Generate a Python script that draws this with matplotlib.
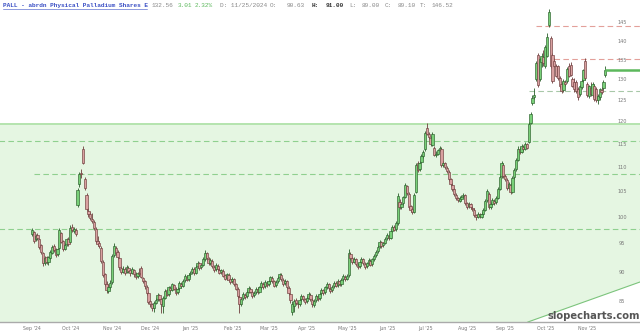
import numpy as np
import pandas as pd
import matplotlib
matplotlib.use('Agg')
import matplotlib.pyplot as plt
from matplotlib.lines import Line2D

# daily OHLC, one line per month (Sep 2024 .. Nov 2025)
opens = [
    96.8, 97.2, 95.8, 96.6, 95.8, 94.8, 93.4, 91.6, 92.6, 91.7, 92.4, 93.4, 94.6, 94.0, 93.1, 94.2, 97.0, 95.5, 94.1, 94.9, 95.9,
    95.3, 98.2, 97.3, 97.6, 102.4, 106.5, 108.8, 113.8, 107.5, 104.3, 101.2, 100.6, 99.6, 99.0, 97.8, 95.5, 95.2, 94.3, 91.8, 89.6, 88.0, 86.8, 87.4,
    88.3, 93.0, 94.3, 93.5, 92.4, 90.7, 90.1, 90.5, 90.0, 90.7, 90.3, 89.9, 90.4, 89.7, 89.3, 89.9, 90.63, 89.0, 88.4, 87.5, 86.4,
    85.1, 84.7, 84.0, 84.9, 85.4, 86.1, 85.4, 84.3, 85.7, 86.9, 86.3, 87.3, 87.0, 87.8, 87.1, 86.6, 87.3, 88.0, 87.7, 88.6, 89.2, 88.8,
    89.6, 90.0, 90.5, 89.9, 91.0, 91.5, 90.8, 91.3, 92.2, 93.3, 92.3, 91.6, 92.0, 90.9, 90.5, 91.1, 90.4, 90.0, 90.2, 89.5, 89.0, 89.5, 88.8,
    88.4, 88.8, 87.9, 87.1, 85.8, 84.7, 85.6, 86.2, 85.9, 86.7, 87.2, 86.6, 86.1, 86.6, 87.1, 86.7, 87.5, 88.0, 87.6, 88.2,
    87.9, 88.5, 89.0, 88.4, 87.8, 88.4, 89.1, 89.5, 88.7, 88.1, 88.4, 87.3, 86.3, 83.4, 84.3, 85.3, 84.8, 84.7, 85.4, 85.9, 85.4,
    85.1, 85.7, 86.2, 85.3, 84.5, 85.3, 85.9, 85.6, 86.4, 86.9, 86.6, 87.5, 87.9, 87.2, 86.9, 87.6, 88.1, 87.8, 88.4, 88.0, 88.8, 89.2,
    88.9, 89.5, 93.2, 92.4, 91.8, 92.2, 91.3, 91.0, 91.8, 92.2, 91.4, 91.0, 91.6, 92.0, 91.4, 92.3, 93.0, 93.7, 94.6, 95.3, 94.7, 95.2,
    96.0, 96.5, 96.1, 97.4, 98.1, 97.7, 98.8, 103.0, 102.0, 102.7, 104.0, 106.1, 104.6, 102.1, 101.6, 101.0, 105.0, 110.8, 109.6, 111.1, 112.3,
    113.8, 118.6, 117.2, 116.4, 114.8, 114.2, 112.6, 112.9, 113.7, 114.0, 110.4, 110.9, 109.9, 109.1, 107.5, 106.4, 105.5, 104.4, 103.7, 103.2, 103.6, 104.1, 104.3,
    102.7, 102.1, 102.5, 101.8, 101.4, 100.3, 100.1, 100.5, 100.1, 100.6, 101.4, 103.3, 104.6, 101.9, 102.6, 103.2, 102.9, 103.8, 105.6, 108.1, 110.5,
    108.1, 107.4, 105.8, 106.4, 105.0, 107.9, 109.6, 111.6, 113.9, 113.3, 114.4, 113.9, 114.9, 115.5, 119.8, 124.3, 125.8, 130.2, 136.4, 130.2, 134.5, 135.8,
    133.6, 136.2, 144.4, 140.8, 136.4, 134.9, 133.6, 133.4, 130.4, 129.1, 127.5, 129.5, 129.7, 133.6, 133.8, 130.2, 129.5, 129.5, 127.8, 126.5, 128.2, 130.0, 134.7,
    129.1, 126.1, 128.0, 126.3, 128.4, 127.8, 125.2, 125.8, 127.6, 128.0, 131.3,
]
highs = [
    98.0, 97.4, 96.8, 97.0, 96.0, 95.0, 93.6, 92.8, 92.8, 92.9, 93.9, 94.8, 95.0, 94.3, 94.3, 97.9, 97.2, 95.7, 95.1, 96.1, 96.2,
    98.4, 98.6, 98.2, 97.9, 105.8, 109.0, 109.6, 114.5, 108.0, 104.8, 101.8, 101.0, 100.8, 99.4, 98.1, 96.4, 95.6, 94.6, 92.1, 89.9, 88.4, 87.9, 88.6,
    93.2, 95.2, 94.6, 93.8, 92.6, 91.0, 91.0, 90.8, 91.2, 91.0, 90.6, 90.9, 90.6, 90.0, 90.1, 90.7, 91.0, 89.2, 88.7, 87.8, 86.6,
    85.3, 84.9, 85.1, 85.6, 86.5, 86.3, 85.6, 85.9, 87.1, 87.2, 87.7, 87.6, 88.2, 88.0, 87.4, 87.5, 88.4, 88.3, 88.8, 89.6, 89.5, 89.8,
    90.2, 90.9, 90.8, 91.2, 91.9, 91.8, 91.5, 92.6, 93.8, 93.6, 92.6, 92.4, 92.2, 91.2, 91.5, 91.4, 90.7, 90.6, 90.5, 89.7, 89.9, 89.8, 89.0,
    89.2, 89.0, 88.2, 87.4, 86.1, 85.8, 86.6, 86.5, 86.9, 87.6, 87.5, 86.9, 86.8, 87.5, 87.4, 87.7, 88.4, 88.3, 88.6, 88.5,
    88.7, 89.4, 89.3, 88.7, 88.6, 89.3, 89.9, 89.8, 89.0, 88.8, 88.7, 87.6, 86.5, 85.1, 85.5, 85.6, 85.0, 85.6, 86.3, 86.2, 85.7,
    85.9, 86.6, 86.5, 85.6, 85.5, 86.3, 86.2, 86.6, 87.3, 87.2, 87.7, 88.3, 88.2, 87.5, 87.8, 88.5, 88.4, 88.8, 88.7, 89.0, 89.6, 89.5,
    89.7, 94.0, 93.5, 92.7, 92.6, 92.5, 91.6, 92.0, 92.6, 92.5, 91.7, 91.8, 92.4, 92.3, 92.5, 93.2, 93.9, 94.8, 95.7, 95.6, 95.4, 96.2,
    96.9, 96.8, 97.6, 98.5, 98.4, 99.2, 104.8, 103.6, 102.9, 104.2, 106.7, 106.4, 104.9, 102.4, 101.9, 104.7, 110.9, 111.3, 111.4, 112.8, 113.6,
    117.9, 119.8, 117.6, 116.7, 117.7, 114.6, 113.4, 114.0, 114.6, 114.4, 111.4, 111.2, 110.2, 109.4, 107.8, 106.7, 105.8, 104.7, 104.0, 104.1, 104.4, 104.8, 104.6,
    103.0, 103.0, 102.8, 102.1, 101.7, 100.6, 101.0, 100.8, 100.9, 101.8, 103.6, 105.6, 104.9, 102.9, 103.7, 103.5, 104.1, 105.9, 108.4, 111.4, 110.8,
    108.6, 107.7, 106.9, 106.7, 108.2, 109.9, 111.9, 114.5, 114.3, 114.9, 114.8, 115.4, 115.3, 119.9, 122.3, 126.2, 127.9, 134.8, 137.0, 135.7, 136.8, 137.6,
    139.0, 142.2, 148.8, 141.5, 137.0, 135.5, 134.1, 133.9, 130.9, 129.6, 130.2, 130.0, 133.3, 134.2, 134.5, 130.8, 130.5, 130.0, 128.2, 128.8, 130.3, 132.8, 135.5,
    129.5, 128.8, 129.5, 129.4, 129.0, 128.2, 126.6, 127.9, 128.3, 129.9, 133.4,
]
lows = [
    96.5, 95.2, 95.5, 95.7, 94.0, 93.2, 91.0, 91.2, 91.4, 91.3, 92.2, 93.1, 93.6, 92.7, 92.9, 94.0, 95.1, 93.7, 93.8, 94.6, 94.6,
    95.1, 97.1, 97.0, 96.4, 101.9, 106.0, 107.8, 110.6, 105.3, 101.1, 100.0, 99.4, 98.9, 97.6, 95.2, 94.6, 94.2, 91.6, 89.1, 87.6, 86.5, 86.4, 87.1,
    88.0, 92.7, 93.0, 92.2, 90.4, 89.6, 89.8, 89.5, 89.8, 89.9, 89.4, 89.7, 89.2, 88.8, 89.0, 89.3, 89.0, 88.1, 87.2, 86.1, 84.6,
    84.2, 83.6, 83.4, 84.6, 85.2, 85.1, 83.3, 83.2, 85.4, 85.9, 86.0, 86.6, 86.8, 86.9, 86.2, 86.3, 87.0, 87.3, 87.4, 88.3, 88.4, 88.5,
    89.2, 89.7, 89.5, 89.6, 90.7, 90.4, 90.5, 91.0, 92.0, 92.1, 91.2, 91.3, 90.7, 90.1, 90.2, 90.2, 89.6, 89.7, 89.1, 88.6, 88.7, 88.4, 88.0,
    88.1, 87.7, 86.9, 85.7, 83.3, 84.4, 85.3, 85.5, 85.6, 86.4, 86.4, 85.7, 85.8, 86.3, 86.3, 86.4, 87.2, 87.2, 87.3, 87.5,
    87.6, 88.2, 88.2, 87.4, 87.5, 88.1, 88.8, 88.5, 87.7, 87.8, 87.1, 86.1, 84.9, 82.9, 83.4, 84.5, 84.1, 84.4, 85.1, 85.2, 84.7,
    84.8, 85.4, 85.1, 84.2, 84.2, 85.0, 85.2, 85.3, 86.1, 86.2, 86.3, 87.2, 87.0, 86.5, 86.6, 87.3, 87.4, 87.5, 87.6, 87.7, 88.5, 88.5,
    88.6, 89.2, 92.1, 91.4, 91.5, 91.1, 90.6, 90.7, 91.5, 91.2, 90.6, 90.7, 91.3, 91.0, 91.1, 92.0, 92.7, 93.4, 94.3, 94.3, 94.4, 94.9,
    95.7, 95.7, 95.8, 97.1, 97.3, 97.4, 98.5, 101.5, 101.6, 102.4, 103.7, 104.4, 101.6, 101.0, 100.5, 100.8, 104.7, 109.1, 109.3, 110.8, 111.9,
    113.5, 116.9, 116.1, 114.6, 114.5, 112.3, 112.2, 112.6, 113.4, 110.1, 110.0, 109.6, 108.8, 107.2, 106.1, 105.2, 104.1, 103.4, 102.9, 102.9, 103.3, 103.8, 102.4,
    101.6, 101.8, 101.5, 101.1, 100.0, 99.5, 99.8, 99.8, 99.8, 100.3, 101.1, 103.0, 101.6, 101.6, 102.3, 102.4, 102.6, 103.5, 105.3, 107.8, 107.8,
    107.1, 105.3, 105.5, 104.5, 104.7, 107.6, 109.3, 111.3, 112.8, 113.0, 113.4, 113.6, 113.8, 115.2, 119.4, 123.9, 125.3, 129.7, 128.3, 129.8, 133.2, 133.6,
    133.1, 135.8, 143.9, 132.9, 129.2, 133.2, 130.8, 130.0, 128.0, 126.7, 127.0, 128.5, 129.2, 130.8, 131.0, 128.2, 127.0, 126.8, 125.2, 126.0, 127.8, 129.5, 130.0,
    125.8, 125.5, 126.0, 125.8, 124.8, 124.6, 124.2, 125.2, 126.6, 127.5, 130.8,
]
closes = [
    97.5, 95.6, 96.4, 96.0, 94.4, 93.5, 91.5, 92.4, 91.8, 92.6, 93.6, 94.5, 93.9, 93.0, 94.0, 97.5, 95.4, 94.0, 94.8, 95.8, 95.0,
    98.0, 97.5, 97.8, 96.8, 105.3, 108.6, 108.5, 111.0, 105.8, 101.5, 100.5, 99.8, 99.3, 98.0, 95.6, 95.0, 94.6, 92.0, 89.5, 88.0, 86.9, 87.5, 88.2,
    92.8, 94.6, 93.4, 92.6, 90.8, 90.0, 90.6, 89.9, 90.8, 90.2, 89.8, 90.5, 89.6, 89.2, 89.8, 89.6, 89.1, 88.5, 87.6, 86.5, 85.0,
    84.6, 84.1, 84.8, 85.3, 86.2, 85.5, 84.6, 85.6, 86.8, 86.2, 87.4, 86.9, 87.9, 87.2, 86.5, 87.2, 88.1, 87.6, 88.5, 89.3, 88.7, 89.5,
    89.9, 90.6, 89.8, 90.9, 91.6, 90.7, 91.2, 92.3, 93.4, 92.4, 91.5, 92.1, 91.0, 90.4, 91.2, 90.5, 89.9, 90.3, 89.4, 88.9, 89.6, 88.7, 88.3,
    88.9, 88.0, 87.2, 86.0, 84.6, 85.5, 86.3, 85.8, 86.6, 87.3, 86.7, 86.0, 86.5, 87.2, 86.6, 87.4, 88.1, 87.5, 88.3, 87.8,
    88.4, 89.1, 88.5, 87.7, 88.3, 89.0, 89.6, 88.8, 88.0, 88.5, 87.4, 86.4, 85.3, 84.6, 85.2, 84.9, 84.6, 85.3, 86.0, 85.5, 85.0,
    85.6, 86.3, 85.4, 84.6, 85.2, 86.0, 85.5, 86.3, 87.0, 86.5, 87.4, 88.0, 87.3, 86.8, 87.5, 88.2, 87.7, 88.5, 87.9, 88.7, 89.3, 88.8,
    89.4, 93.4, 92.5, 91.7, 92.3, 91.4, 90.9, 91.7, 92.3, 91.5, 90.9, 91.5, 92.1, 91.3, 92.2, 92.9, 93.6, 94.5, 95.4, 94.6, 95.1, 95.9,
    96.6, 96.0, 97.3, 98.2, 97.6, 98.9, 104.2, 101.9, 102.6, 103.9, 106.3, 104.8, 102.0, 101.4, 100.9, 104.3, 110.5, 109.5, 111.0, 112.4, 113.2,
    117.5, 117.3, 116.5, 115.0, 117.3, 112.7, 112.8, 113.6, 114.2, 110.5, 111.0, 110.0, 109.2, 107.6, 106.5, 105.6, 104.5, 103.8, 103.3, 103.7, 104.0, 104.4, 102.8,
    102.0, 102.6, 101.9, 101.5, 100.4, 100.0, 100.6, 100.2, 100.5, 101.4, 103.2, 105.2, 102.0, 102.5, 103.3, 102.8, 103.7, 105.5, 108.0, 110.8, 108.2,
    107.5, 105.7, 106.5, 104.9, 107.8, 109.5, 111.5, 114.0, 113.2, 114.5, 113.8, 115.0, 114.2, 119.5, 121.8, 125.5, 126.2, 134.3, 128.8, 135.2, 136.0, 134.4,
    138.5, 141.1, 148.1, 133.4, 129.7, 133.6, 131.1, 130.4, 128.6, 127.2, 129.7, 129.0, 132.8, 131.1, 131.3, 128.6, 127.8, 127.2, 125.8, 128.4, 129.8, 132.5, 130.4,
    126.3, 128.4, 126.5, 129.0, 125.4, 125.0, 126.0, 127.7, 127.0, 129.5, 132.56,
]
first_day = '2024-09-02'

price_ticks = [85, 90, 95, 100, 105, 110, 115, 120, 125, 130, 135, 140, 145]

# horizontal levels: (price, first candle index, colour)
levels = [
    (115.7, -18, '#8fd08f'),
    (108.6, 1, '#8fd08f'),
    (97.8, -18, '#8fd08f'),
    (127.4, 273, '#a8c8a8'),
    (135.3, 287, '#e3a09a'),
    (144.2, 277, '#e3a09a'),
]
zone_top = 119.5
trend_x = [272.5, 334.0]
trend_y = [81.8, 88.3]

n = len(closes)
assert len(opens) == len(highs) == len(lows) == n
idx = np.arange(n)
dates = pd.bdate_range(first_day, periods=n)

fig = plt.figure(figsize=(6.4, 3.36), dpi=100)
ax = fig.add_axes([0, 14 / 336, 1, 322 / 336])
ax.set_yscale('log')
ymin, ymax = 81.8, 151.5
xmin, xmax = -17.6, 334.1
ax.set_ylim(ymin, ymax)
ax.set_xlim(xmin, xmax)
for s in ax.spines.values():
    s.set_visible(False)
ax.set_xticks([])
ax.set_yticks([])
ax.yaxis.set_minor_locator(matplotlib.ticker.NullLocator())

# green zone, cut below by the rising trend line
xs = np.linspace(xmin, xmax, 400)
tl = np.exp(np.interp(xs, trend_x, np.log(trend_y), left=np.log(ymin) - 1))
bottom = np.maximum(tl, ymin)
ax.fill_between(xs, bottom, zone_top, color='#e5f6e2', lw=0, zorder=0)
ax.axhline(zone_top, color='#b4e4ae', lw=1.4, zorder=1)
ax.plot(trend_x, trend_y, color='#7cc47c', lw=0.8, zorder=1)

for price, start, col in levels:
    ax.plot([start, xmax], [price, price], color=col, lw=0.8,
            dashes=(5, 3), zorder=1)

# candles
up_fill, up_edge = '#78d078', '#2a5e2a'
dn_fill, dn_edge = '#d9a0a0', '#6e3c3c'
for i in idx:
    o, h, l, c = opens[i], highs[i], lows[i], closes[i]
    up = c >= o
    edge = up_edge if up else dn_edge
    ax.vlines(i, l, h, color=edge, lw=0.6, zorder=2)
    ax.bar(i, abs(c - o) if abs(c - o) > 0.05 else 0.1, bottom=min(o, c),
           width=1.25, color=up_fill if up else dn_fill, edgecolor=edge,
           linewidth=0.45, zorder=3)

# last price marker
ax.plot([n - 0.5, xmax], [closes[-1], closes[-1]], color='#5cb85c', lw=1.8, zorder=3)

# price labels inside the right edge
for v in price_ticks:
    ax.text(0.972, v, str(v), transform=ax.get_yaxis_transform(),
            ha='center', va='center', fontsize=3.6, color='#777')

# month labels
month_starts = [0] + [i for i in range(1, n) if dates[i].month != dates[i - 1].month]
for i in month_starts:
    ax.text(i, -0.02, dates[i].strftime("%b '%y"), transform=ax.get_xaxis_transform(),
            ha='center', va='center', fontsize=3.4, color='#777')

# bottom axis line
fig.add_artist(Line2D([0, 1], [14 / 336, 14 / 336], color='#aaaaaa', lw=1.0))

# header
hy = 1 - 5.5 / 336
mono = 'Liberation Mono'
fig.text(3 / 640, hy, 'PALL - abrdn Physical Palladium Shares E', color='#3a4fc4',
         fontsize=4.4, family=mono, fontweight='bold', va='center')
fig.add_artist(Line2D([3 / 640, 147 / 640], [1 - 9 / 336, 1 - 9 / 336], color='#3a4fc4', lw=0.4))
header = [
    (152, '132.56', '#888', 'normal'),
    (178, '3.01', '#5cb85c', 'normal'),
    (195, '2.32%', '#5cb85c', 'normal'),
    (220, 'D: 11/25/2024', '#888', 'normal'),
    (270, 'O:', '#888', 'normal'),
    (287, '90.63', '#888', 'normal'),
    (312, 'H:', '#333', 'bold'),
    (326, '91.00', '#333', 'bold'),
    (349, 'L:', '#888', 'normal'),
    (362, '89.00', '#888', 'normal'),
    (385, 'C:', '#888', 'normal'),
    (398, '89.10', '#888', 'normal'),
    (420, 'T:', '#888', 'normal'),
    (432, '146.52', '#888', 'normal'),
]
for x, s, col, w in header:
    fig.text(x / 640, hy, s, color=col, fontsize=4.4, family=mono,
             fontweight=w, va='center')

fig.text(594 / 640, 1 - 316 / 336, 'slopecharts.com', ha='center', va='center',
         fontsize=7.2, color='#555', fontweight='bold')

fig.savefig('out.png', dpi=100)
